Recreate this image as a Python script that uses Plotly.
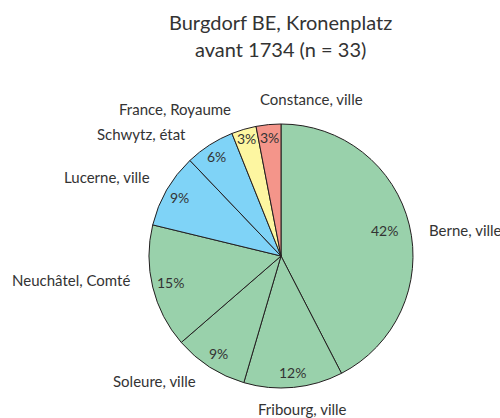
import math
import plotly.graph_objects as go

# Origin of coin finds, Burgdorf BE, Kronenplatz (before 1734)
labels = ["Berne, ville", "Fribourg, ville", "Soleure, ville", "Neuchâtel, Comté",
          "Lucerne, ville", "Schwytz, état", "France, Royaume", "Constance, ville"]
counts = [14, 4, 3, 5, 3, 2, 1, 1]
colors = ["#99d1ab", "#99d1ab", "#99d1ab", "#99d1ab",
          "#7fd3f7", "#7fd3f7", "#fdf6a1", "#f4958a"]
title_lines = ["Burgdorf BE, Kronenplatz", "avant 1734 (n = 33)"]

W, H = 500, 418
CX, CY, R = 281, 256, 132  # pie centre / radius in pixels
FONT = "Lato"
TXT = "#333333"

# label placement styling
outer_factor = 1.12
outer_anchor = ["left", "center", "right", "right", "right", "right", "right", "left"]
outer_shift = [(2, 9), (7, 6), (-3, 1), (-5, -11), (-1, -5), (-13, 2), (-6, -5), (-9, -10)]
inner_factor = [0.81, 0.89, 0.88, 0.86, 0.89, 0.90, 0.93, 0.90]

total = sum(counts)
fig = go.Figure(go.Pie(
    labels=labels, values=counts, sort=False, direction="clockwise", rotation=0,
    marker=dict(colors=colors, line=dict(color="#231f20", width=1)),
    textinfo="none", hoverinfo="label+percent", showlegend=False,
    domain=dict(x=[(CX - R) / W, (CX + R) / W], y=[(H - CY - R) / H, (H - CY + R) / H]),
))

def to_paper(px, py):
    return px / W, 1 - py / H

annotations = []
cum = 0
for i, c in enumerate(counts):
    mid = math.radians((cum + c / 2) / total * 360)
    cum += c
    s, co = math.sin(mid), math.cos(mid)
    # percentage inside the slice
    ix, iy = to_paper(CX + inner_factor[i] * R * s, CY - inner_factor[i] * R * co)
    annotations.append(dict(x=ix, y=iy, xref="paper", yref="paper", showarrow=False,
                            text=f"{round(100 * c / total)}%", xanchor="center", yanchor="middle",
                            font=dict(size=14, color=TXT)))
    # category name outside the pie
    dx, dy = outer_shift[i]
    ox, oy = to_paper(CX + outer_factor * R * s + dx, CY - outer_factor * R * co + dy)
    annotations.append(dict(x=ox, y=oy, xref="paper", yref="paper", showarrow=False,
                            text=labels[i], xanchor=outer_anchor[i], yanchor="middle",
                            font=dict(size=15, color=TXT)))

# two-line heading above the pie
for line, py in zip(title_lines, [22, 49]):
    tx, ty = to_paper(280, py)
    annotations.append(dict(x=tx, y=ty, xref="paper", yref="paper", showarrow=False,
                            text=line, xanchor="center", yanchor="middle",
                            font=dict(size=20, color=TXT)))

fig.update_layout(
    width=W, height=H, margin=dict(l=0, r=0, t=0, b=0),
    paper_bgcolor="white", plot_bgcolor="white",
    font=dict(family=FONT, color=TXT),
    annotations=annotations,
)

fig.write_html("out.html")
